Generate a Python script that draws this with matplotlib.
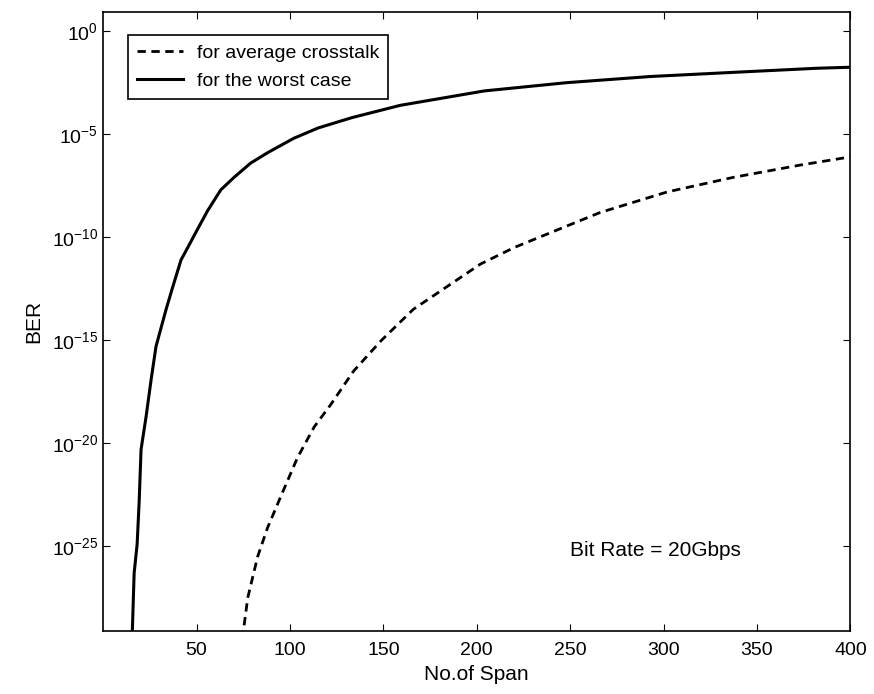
import numpy as np
import matplotlib.pyplot as plt

plt.rcParams['font.family'] = ['Liberation Sans', 'DejaVu Sans']

# worst case (solid): span number vs log10(BER)
span_worst = [15.5, 16.6, 18.2, 19.3, 20.3, 23, 25.7, 28.3, 31, 33.7, 37.3, 41.7,
              45.3, 49.7, 56, 63, 70, 79, 88, 102, 115, 133, 159, 204, 248,
              293, 337, 382, 400]
logber_worst = [-29.5, -26.3, -24.9, -22.8, -20.3, -18.7, -16.9, -15.3, -14.4,
                -13.5, -12.4, -11.1, -10.5, -9.75, -8.7, -7.7, -7.1, -6.4, -5.9,
                -5.2, -4.7, -4.2, -3.6, -2.9, -2.5, -2.2, -2.0, -1.8, -1.75]

# average crosstalk (dashed)
span_avg = [74.5, 77.4, 82.7, 88, 95, 104, 113, 122, 134, 149, 166, 184, 202,
            220, 247, 266, 302, 337, 373, 400]
logber_avg = [-29.5, -27.5, -25.5, -24.1, -22.6, -20.7, -19.2, -18.1, -16.5,
              -15.0, -13.5, -12.4, -11.3, -10.5, -9.5, -8.8, -7.8, -7.1, -6.5, -6.1]

xticks = [50, 100, 150, 200, 250, 300, 350, 400]
yticks = [1e0, 1e-5, 1e-10, 1e-15, 1e-20, 1e-25]

fig = plt.figure(figsize=(8.74, 6.94), dpi=100)
ax = fig.add_axes([0.118, 0.091, 0.855, 0.892])

ax.semilogy(span_avg, 10.0 ** np.array(logber_avg), color='black', lw=2,
            linestyle=(0, (3, 2)), label='for average crosstalk')
ax.semilogy(span_worst, 10.0 ** np.array(logber_worst), color='black', lw=2.2,
            label='for the worst case')

ax.set_xlim(0, 400)
ax.set_ylim(10 ** -29.1, 10 ** 0.94)
ax.set_xticks(xticks)
ax.set_yticks(yticks)
ax.minorticks_off()
ax.tick_params(direction='in', top=True, right=True, labelsize=14, length=5)
ax.tick_params(axis='x', pad=8)

ax.set_xlabel('No.of Span', fontsize=15, labelpad=4)
ax.set_ylabel('BER', fontsize=15, labelpad=6)
ax.text(250, 10 ** -25.2, 'Bit Rate = 20Gbps', fontsize=15, va='center')

leg = ax.legend(loc='upper left', fontsize=14, fancybox=False, framealpha=1,
                edgecolor='black', handlelength=2.4, borderpad=0.45,
                labelspacing=0.55, handletextpad=0.7,
                bbox_to_anchor=(0.02, 0.978))
leg.get_frame().set_linewidth(1.2)

for s in ax.spines.values():
    s.set_linewidth(1.2)

plt.savefig('out.png', dpi=100)
